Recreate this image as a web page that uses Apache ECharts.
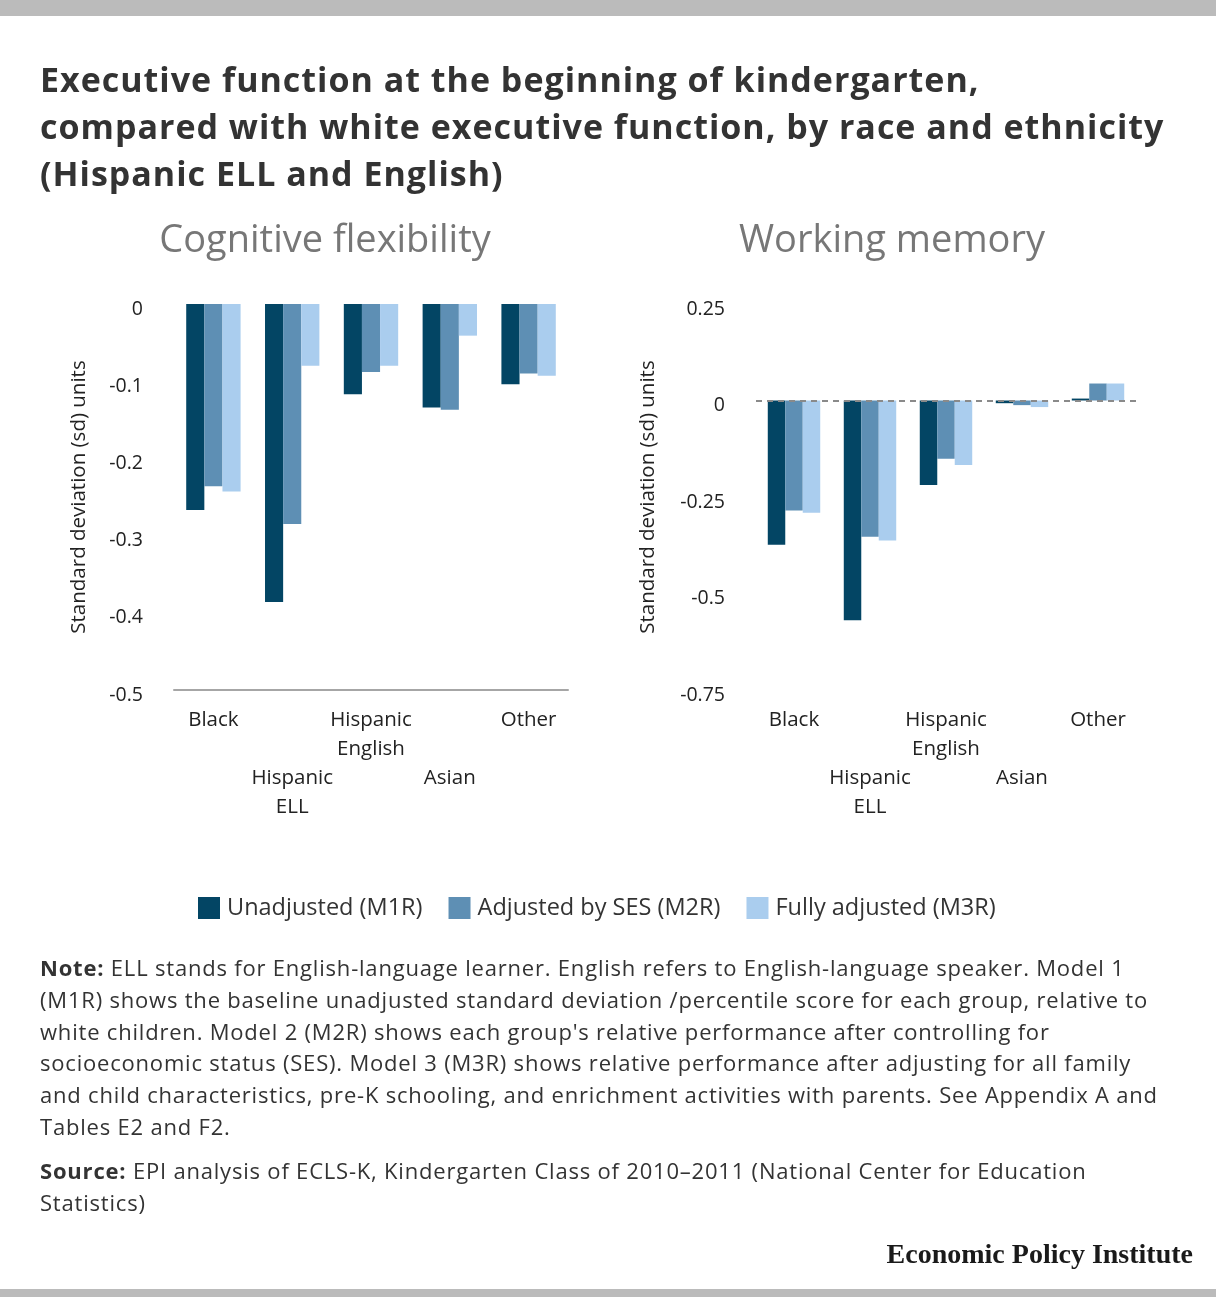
<!DOCTYPE html>
<html>
<head>
<meta charset="utf-8">
<script src="https://cdn.jsdelivr.net/npm/echarts@6/dist/echarts.min.js"></script>
<style>
html,body{margin:0;padding:0;background:#fff;}
#wrap{position:relative;width:1216px;height:1297px;overflow:hidden;}
#c{position:absolute;left:0;top:0;width:1216px;height:1297px;}
.txt{position:absolute;white-space:pre;font-family:'Open Sans',sans-serif;color:#333;}
#title{left:40px;top:56px;font-size:34px;font-weight:bold;line-height:47px;letter-spacing:1.0px;}
.note{left:40px;font-size:22px;line-height:31.8px;letter-spacing:0.8px;}
#note{top:952px;}
#source{top:1155px;}
#epi{right:23px;top:1238px;font-family:'Liberation Serif',serif;font-weight:bold;font-size:28px;color:#1a1a1a;letter-spacing:0;}
</style>
</head>
<body>
<div id="wrap">
<div id="c"></div>
<div class="txt" id="title"></div>
<div class="txt note" id="note"></div>
<div class="txt note" id="source"></div>
<div class="txt" id="epi">Economic Policy Institute</div>
</div>
<script>
const categories = ['Black', 'Hispanic\nELL', 'Hispanic\nEnglish', 'Asian', 'Other'];
const seriesNames = ['Unadjusted (M1R)', 'Adjusted by SES (M2R)', 'Fully adjusted (M3R)'];
// Cognitive flexibility
const cogM1 = [-0.267, -0.386, -0.117, -0.134, -0.104];
const cogM2 = [-0.236, -0.285, -0.088, -0.137, -0.090];
const cogM3 = [-0.243, -0.080, -0.080, -0.041, -0.093];
// Working memory
const wmM1 = [-0.374, -0.569, -0.219, -0.007, 0.005];
const wmM2 = [-0.285, -0.353, -0.151, -0.012, 0.044];
const wmM3 = [-0.291, -0.363, -0.167, -0.017, 0.044];
const cogTicks = {min: -0.5, max: 0, interval: 0.1};
const wmTicks = {min: -0.75, max: 0.25, interval: 0.25};
const colors = ['#034564', '#5e8fb4', '#aacdee'];

const titleLines = [
  'Executive function at the beginning of kindergarten,',
  'compared with white executive function, by race and ethnicity',
  '(Hispanic ELL and English)'
];
const noteLines = [
  'ELL stands for English-language learner. English refers to English-language speaker. Model 1',
  '(M1R) shows the baseline unadjusted standard deviation /percentile score for each group, relative to',
  'white children. Model 2 (M2R) shows each group\'s relative performance after controlling for',
  'socioeconomic status (SES). Model 3 (M3R) shows relative performance after adjusting for all family',
  'and child characteristics, pre-K schooling, and enrichment activities with parents. See Appendix A and',
  'Tables E2 and F2.'
];
const sourceLines = [
  'EPI analysis of ECLS-K, Kindergarten Class of 2010\u20132011 (National Center for Education',
  'Statistics)'
];

document.getElementById('title').textContent = titleLines.join('\n');
function fill(id, label, lines) {
  const el = document.getElementById(id);
  const b = document.createElement('b');
  b.textContent = label;
  el.appendChild(b);
  el.appendChild(document.createTextNode(' ' + lines.join('\n')));
}
fill('note', 'Note:', noteLines);
fill('source', 'Source:', sourceLines);

const FONT = 'Open Sans';
const chart = echarts.init(document.getElementById('c'), null, {renderer: 'canvas'});

function xAxisFor(gridIndex, showLine) {
  return {
    type: 'category', gridIndex: gridIndex, data: categories,
    axisLine: {show: showLine, onZero: false, lineStyle: {color: '#a6a6a6', width: 2}},
    axisTick: {show: false},
    axisLabel: {
      interval: 0, margin: 16, color: '#222', fontFamily: FONT, fontSize: 20.5, lineHeight: 29,
      formatter: function (v, i) { return (i % 2 === 1 ? '\n\n' : '') + v; }
    }
  };
}
function yAxisFor(gridIndex, t, gap) {
  return {
    type: 'value', gridIndex: gridIndex, min: t.min, max: t.max, interval: t.interval,
    name: 'Standard deviation (sd) units', nameLocation: 'middle', nameRotate: 90, nameGap: gap,
    nameTextStyle: {color: '#222', fontFamily: FONT, fontSize: 20.5},
    axisLine: {show: false}, axisTick: {show: false}, splitLine: {show: false},
    axisLabel: {margin: 31, color: '#222', fontFamily: FONT, fontSize: 19.5, verticalAlign: 'top', lineHeight: 10}
  };
}
function bar(name, data, idx, gi) {
  return {
    type: 'bar', name: name, data: data, xAxisIndex: gi, yAxisIndex: gi,
    itemStyle: {color: colors[idx]}, barGap: '0%', barCategoryGap: '31%',
    silent: true, animation: false
  };
}

const series = [
  bar(seriesNames[0], cogM1, 0, 0), bar(seriesNames[1], cogM2, 1, 0), bar(seriesNames[2], cogM3, 2, 0),
  bar(seriesNames[0], wmM1, 0, 1), bar(seriesNames[1], wmM2, 1, 1), bar(seriesNames[2], wmM3, 2, 1)
];
series[3].markLine = {
  silent: true, symbol: 'none', label: {show: false},
  lineStyle: {color: '#8a8a8a', type: [6, 5], width: 2},
  data: [{yAxis: 0}]
};

chart.setOption({
  animation: false,
  backgroundColor: '#fff',
  title: [
    {text: 'Cognitive flexibility', left: 325, top: 222, padding: 0, textAlign: 'center',
     textStyle: {fontFamily: FONT, fontWeight: 'normal', fontSize: 38, color: '#777'}},
    {text: 'Working memory', left: 892, top: 222, padding: 0, textAlign: 'center',
     textStyle: {fontFamily: FONT, fontWeight: 'normal', fontSize: 38, color: '#777'}}
  ],
  legend: {
    data: seriesNames, left: 198, top: 896, padding: 0, itemWidth: 22, itemHeight: 22, itemGap: 26, icon: 'rect',
    textStyle: {fontFamily: FONT, fontSize: 23.5, color: '#333', padding: [0, 0, 0, 2]},
    selectedMode: false
  },
  grid: [
    {left: 174, top: 304, width: 394, height: 386},
    {left: 756, top: 304, width: 380, height: 386}
  ],
  xAxis: [xAxisFor(0, true), xAxisFor(1, false)],
  yAxis: [yAxisFor(0, cogTicks, 84), yAxisFor(1, wmTicks, 97)],
  series: series,
  graphic: [
    {type: 'rect', shape: {x: 0, y: 0, width: 1216, height: 16}, style: {fill: '#bbbbbb'}, silent: true},
    {type: 'rect', shape: {x: 0, y: 1289, width: 1216, height: 8}, style: {fill: '#bbbbbb'}, silent: true}
  ]
});
</script>
</body>
</html>
